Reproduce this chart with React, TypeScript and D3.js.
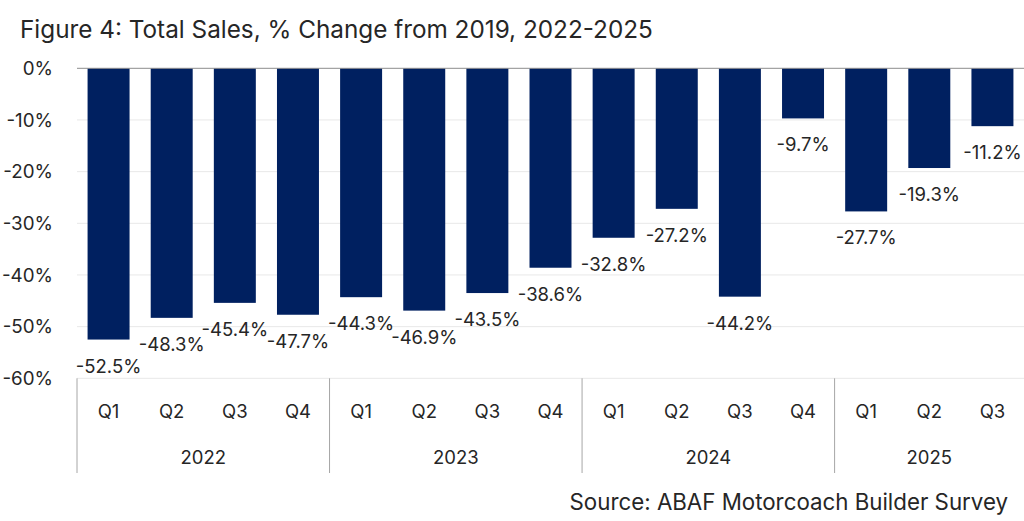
import { useRef, useEffect } from 'react'
import * as d3 from 'd3'

const years = ['2022', '2023', '2024', '2025']
const quarters = [
  ['Q1', 'Q2', 'Q3', 'Q4'],
  ['Q1', 'Q2', 'Q3', 'Q4'],
  ['Q1', 'Q2', 'Q3', 'Q4'],
  ['Q1', 'Q2', 'Q3'],
]
const salesChange = [
  -52.5, -48.3, -45.4, -47.7,
  -44.3, -46.9, -43.5, -38.6,
  -32.8, -27.2, -44.2, -9.7,
  -27.7, -19.3, -11.2,
]
const yTicks = [0, -10, -20, -30, -40, -50, -60]

const title = 'Figure 4: Total Sales, % Change from 2019, 2022-2025'
const source = 'Source: ABAF Motorcoach Builder Survey'

const W = 1024
const H = 521
const FONT = 'Inter, "Noto Sans", sans-serif'
const TEXT = '#262626'
const BAR = '#002060'

export default function App() {
  const svgRef = useRef<SVGSVGElement>(null)

  useEffect(() => {
    if (!svgRef.current) return
    const svg = d3.select(svgRef.current)
    svg.selectAll('*').remove()

    const left = 77
    const right = 1024
    const top = 68.3
    const bottom = 378.3

    const cats: { key: string; q: string; year: string; value: number }[] = []
    let idx = 0
    years.forEach((y, yi) => {
      quarters[yi].forEach(q => {
        cats.push({ key: `${y}-${q}`, q, year: y, value: salesChange[idx] })
        idx++
      })
    })

    const x = d3.scaleBand<string>()
      .domain(cats.map(c => c.key))
      .range([left, right])
      .padding(0)

    const y = d3.scaleLinear()
      .domain([-60, 0])
      .range([bottom, top])

    svg.append('text')
      .attr('x', 20)
      .attr('y', 38)
      .attr('fill', TEXT)
      .attr('font-family', FONT)
      .attr('font-size', '24.3px')
      .text(title)

    // gridlines
    svg.append('g')
      .selectAll('line')
      .data(yTicks.filter(t => t !== 0))
      .join('line')
      .attr('x1', left)
      .attr('x2', right)
      .attr('y1', d => y(d))
      .attr('y2', d => y(d))
      .attr('stroke', '#e8e8e8')
      .attr('stroke-width', 1)

    // y tick labels
    svg.append('g')
      .selectAll('text')
      .data(yTicks)
      .join('text')
      .attr('x', 53)
      .attr('y', d => y(d))
      .attr('dy', '0.35em')
      .attr('text-anchor', 'end')
      .attr('fill', TEXT)
      .attr('font-family', FONT)
      .attr('font-size', '18.8px')
      .text(d => `${d}%`)

    const barW = x.bandwidth() * 0.665

    svg.append('g')
      .selectAll('rect')
      .data(cats)
      .join('rect')
      .attr('x', d => (x(d.key) as number) + (x.bandwidth() - barW) / 2)
      .attr('y', y(0))
      .attr('width', barW)
      .attr('height', d => y(d.value) - y(0))
      .attr('fill', BAR)

    // zero line
    svg.append('line')
      .attr('x1', left)
      .attr('x2', right)
      .attr('y1', y(0))
      .attr('y2', y(0))
      .attr('stroke', '#8c8c8c')
      .attr('stroke-width', 1)

    // value labels
    svg.append('g')
      .selectAll('text')
      .data(cats)
      .join('text')
      .attr('x', d => (x(d.key) as number) + x.bandwidth() / 2)
      .attr('y', d => y(d.value) + 33)
      .attr('text-anchor', 'middle')
      .attr('fill', TEXT)
      .attr('font-family', FONT)
      .attr('font-size', '18.5px')
      .text(d => `${d.value.toFixed(1)}%`)

    // quarter labels
    svg.append('g')
      .selectAll('text')
      .data(cats)
      .join('text')
      .attr('x', d => (x(d.key) as number) + x.bandwidth() / 2)
      .attr('y', 412)
      .attr('dy', '0.35em')
      .attr('text-anchor', 'middle')
      .attr('fill', TEXT)
      .attr('font-family', FONT)
      .attr('font-size', '18.5px')
      .text(d => d.q)

    // year groups
    const groups = years.map(yr => {
      const members = cats.filter(c => c.year === yr)
      const start = x(members[0].key) as number
      const end = (x(members[members.length - 1].key) as number) + x.bandwidth()
      return { yr, start, end }
    })

    svg.append('g')
      .selectAll('line')
      .data(groups)
      .join('line')
      .attr('x1', d => d.start)
      .attr('x2', d => d.start)
      .attr('y1', bottom)
      .attr('y2', 473)
      .attr('stroke', '#a6a6a6')
      .attr('stroke-width', 1)

    svg.append('g')
      .selectAll('text')
      .data(groups)
      .join('text')
      .attr('x', d => (d.start + d.end) / 2)
      .attr('y', 458)
      .attr('dy', '0.35em')
      .attr('text-anchor', 'middle')
      .attr('fill', TEXT)
      .attr('font-family', FONT)
      .attr('font-size', '18.5px')
      .text(d => d.yr)

    svg.append('text')
      .attr('x', 1008)
      .attr('y', 502)
      .attr('dy', '0.35em')
      .attr('text-anchor', 'end')
      .attr('fill', TEXT)
      .attr('font-family', FONT)
      .attr('font-size', '22.3px')
      .text(source)
  }, [])

  return (
    <svg
      ref={svgRef}
      width={W}
      height={H}
      style={{ position: 'absolute', left: 0, top: 0, background: '#fff' }}
    />
  )
}
